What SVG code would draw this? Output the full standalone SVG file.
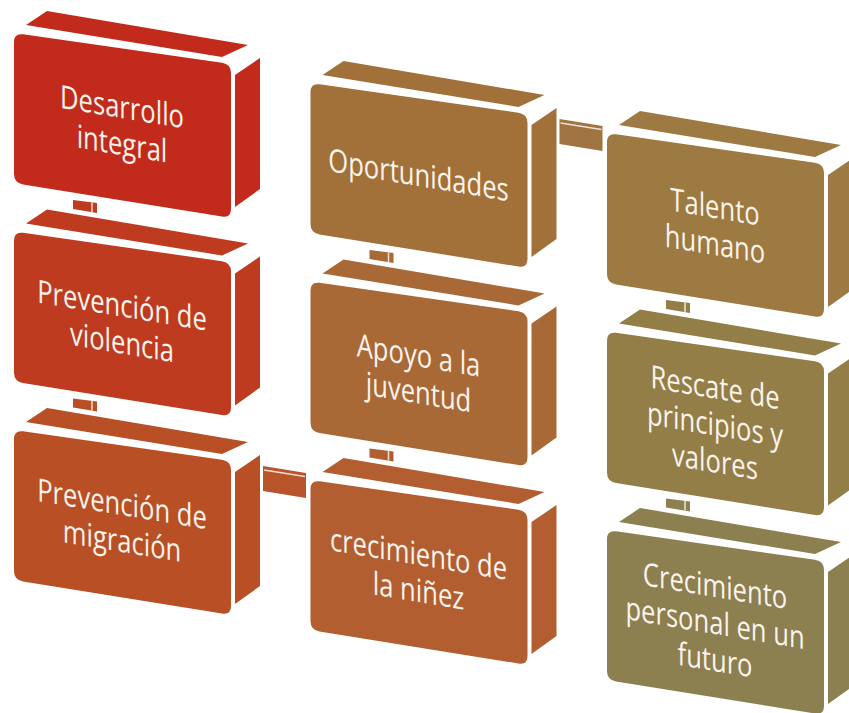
<svg xmlns="http://www.w3.org/2000/svg" xmlns:xlink="http://www.w3.org/1999/xlink" width="849" height="713" viewBox="0 0 849 713">
<style>
.t{font-family:"Open Sans","DejaVu Sans",sans-serif;font-size:32px;fill:#FBF3EC;text-anchor:middle}
.hl{stroke:#FFFFFF;stroke-width:1.5;fill:none;opacity:0.8}
</style>
<defs>
<g id="box">
<path d="M12,-8 L33,-22 L234,12 L208,24 Z"/>
<path d="M0,9 Q0,0 9,1.3 L208,29.7 Q217,31 217,40 L217,176 Q217,185 208,183.5 L9,151.4 Q0,150 0,141 Z"/>
<path d="M221,42 L246,25 L246,156 L221,174 Z"/>
</g>
<g id="tab">
<path d="M59,167 L83,170 L83,180 L59,176 Z"/>
<path class="hl" d="M78,169.5 L78,179"/>
</g>
<g id="hcon">
<path d="M249,36 L292,43 L292,68 L249,61 Z"/>
<path class="hl" d="M250,40 L291,46.5"/>
</g>
</defs>
<g id="connectors">
<use xlink:href="#tab" href="#tab" transform="translate(14,33)" fill="#BE3B1F"/>
<use xlink:href="#tab" href="#tab" transform="translate(14,231.5)" fill="#B84F25"/>
<use xlink:href="#tab" href="#tab" transform="translate(310.5,83)" fill="#A86937"/>
<use xlink:href="#tab" href="#tab" transform="translate(310.5,281.5)" fill="#B25E31"/>
<use xlink:href="#tab" href="#tab" transform="translate(607,133)" fill="#937E48"/>
<use xlink:href="#tab" href="#tab" transform="translate(607,331.5)" fill="#8C7F50"/>
<use xlink:href="#hcon" href="#hcon" transform="translate(310.5,83)" fill="#A07440"/>
<use xlink:href="#hcon" href="#hcon" transform="translate(14,430)" fill="#B8552A"/>
</g>
<g id="n1" transform="translate(14,33)" fill="#C22B1B">
<use xlink:href="#box" href="#box"/>
<g transform="skewY(9.5)"><text class="t" transform="translate(108,67) scale(0.8,1)"><tspan x="0" y="0">Desarrollo</tspan><tspan x="0" y="37">integral</tspan></text></g>
</g>
<g id="n2" transform="translate(14,231.5)" fill="#BE3B1F">
<use xlink:href="#box" href="#box"/>
<g transform="skewY(9.5)"><text class="t" transform="translate(108,67) scale(0.8,1)"><tspan x="0" y="0">Prevención de</tspan><tspan x="0" y="37">violencia</tspan></text></g>
</g>
<g id="n3" transform="translate(14,430)" fill="#B84F25">
<use xlink:href="#box" href="#box"/>
<g transform="skewY(9.5)"><text class="t" transform="translate(108,67) scale(0.8,1)"><tspan x="0" y="0">Prevención de</tspan><tspan x="0" y="37">migración</tspan></text></g>
</g>
<g id="n4" transform="translate(310.5,83)" fill="#A2713A">
<use xlink:href="#box" href="#box"/>
<g transform="skewY(9.5)"><text class="t" transform="translate(108,85) scale(0.8,1)"><tspan x="0" y="0">Oportunidades</tspan></text></g>
</g>
<g id="n5" transform="translate(310.5,281.5)" fill="#A86937">
<use xlink:href="#box" href="#box"/>
<g transform="skewY(9.5)"><text class="t" transform="translate(108,67) scale(0.8,1)"><tspan x="0" y="0">Apoyo a la</tspan><tspan x="0" y="37">juventud</tspan></text></g>
</g>
<g id="n6" transform="translate(310.5,480)" fill="#B25E31">
<use xlink:href="#box" href="#box"/>
<g transform="skewY(9.5)"><text class="t" transform="translate(108,67) scale(0.8,1)"><tspan x="0" y="0">crecimiento de</tspan><tspan x="0" y="37">la niñez</tspan></text></g>
</g>
<g id="n7" transform="translate(607,133)" fill="#9C7A41">
<use xlink:href="#box" href="#box"/>
<g transform="skewY(9.5)"><text class="t" transform="translate(108,67) scale(0.8,1)"><tspan x="0" y="0">Talento</tspan><tspan x="0" y="37">humano</tspan></text></g>
</g>
<g id="n8" transform="translate(607,331.5)" fill="#937E48">
<use xlink:href="#box" href="#box"/>
<g transform="skewY(9.5)"><text class="t" transform="translate(108,49) scale(0.8,1)"><tspan x="0" y="0">Rescate de</tspan><tspan x="0" y="37">principios y</tspan><tspan x="0" y="74">valores</tspan></text></g>
</g>
<g id="n9" transform="translate(607,530)" fill="#8C7F50">
<use xlink:href="#box" href="#box"/>
<g transform="skewY(9.5)"><text class="t" transform="translate(108,49) scale(0.8,1)"><tspan x="0" y="0">Crecimiento</tspan><tspan x="0" y="37">personal en un</tspan><tspan x="0" y="74">futuro</tspan></text></g>
</g>
</svg>
